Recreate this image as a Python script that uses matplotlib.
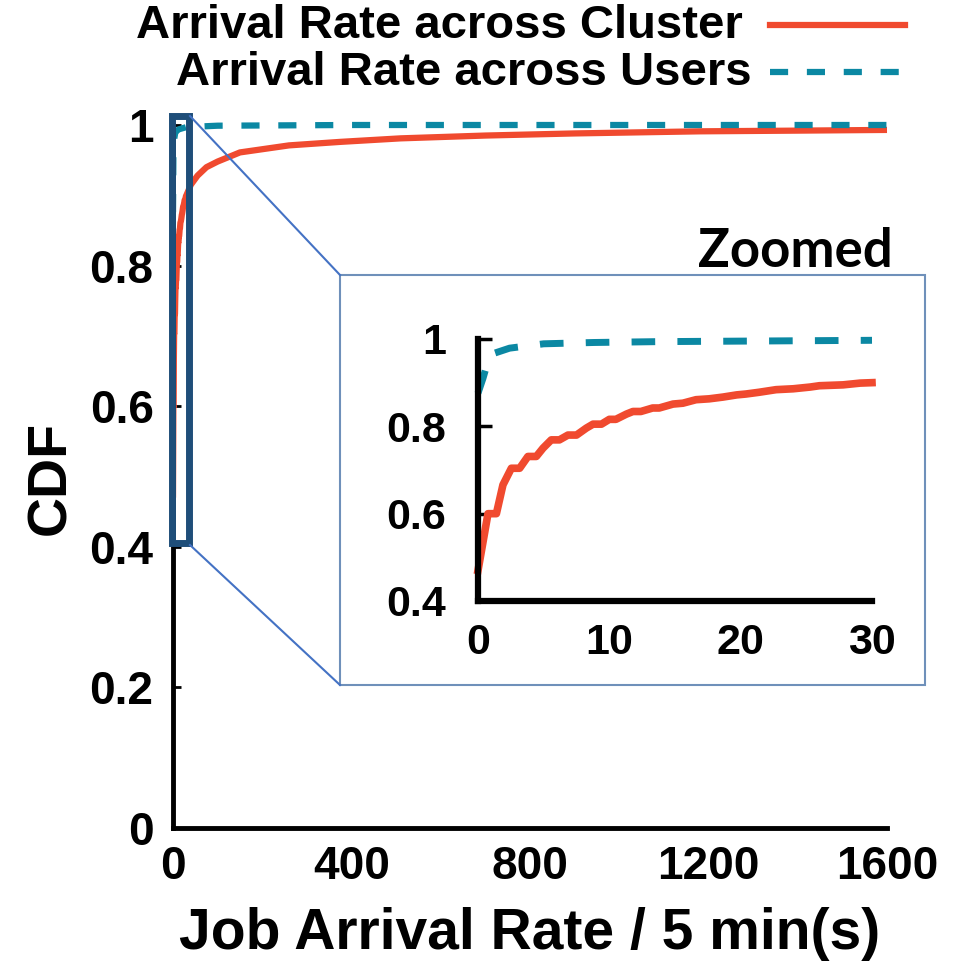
import matplotlib.pyplot as plt
from matplotlib.patches import Rectangle
from matplotlib.lines import Line2D

# values
cluster_x = [0, 0.76, 1.4, 1.9, 2.54, 3.17, 3.8, 4.44, 4.95, 5.58, 6.2, 6.85, 7.5,
             8.25, 8.76, 9.4, 10.0, 10.5, 11.3, 11.8, 12.4, 13.3, 13.8, 14.85, 15.6,
             16.6, 17.6, 18.65, 19.7, 20.4, 21.4, 22.7, 24.0, 25.3, 26.0, 27.8, 29.1,
             30, 40, 55, 75, 100, 150, 260, 375, 510, 700, 900, 1180, 1400, 1600]
cluster_y = [0.47, 0.60, 0.60, 0.666, 0.704, 0.704, 0.731, 0.731, 0.75, 0.769, 0.769,
             0.78, 0.78, 0.796, 0.805, 0.805, 0.816, 0.816, 0.828, 0.834, 0.834, 0.842,
             0.842, 0.851, 0.853, 0.861, 0.863, 0.867, 0.872, 0.874, 0.878, 0.884,
             0.886, 0.89, 0.893, 0.895, 0.899, 0.900, 0.915, 0.928, 0.94, 0.948,
             0.961, 0.971, 0.976, 0.981, 0.985, 0.988, 0.991, 0.992, 0.993]
users_x = [0, 0.38, 0.9, 2.4, 5, 8.8, 13.8, 30, 100, 400, 1600]
users_y = [0.876, 0.91, 0.964, 0.979, 0.989, 0.992, 0.994, 0.997, 0.999, 1.0, 1.0]

main_xticks = [0, 400, 800, 1200, 1600]
main_yticks = [0, 0.2, 0.4, 0.6, 0.8, 1]
main_yticklabels = ['0', '0.2', '0.4', '0.6', '0.8', '1']
zoom_xticks = [0, 10, 20, 30]
zoom_yticks = [0.4, 0.6, 0.8, 1]
zoom_yticklabels = ['0.4', '0.6', '0.8', '1']

red = '#f04a2f'
teal = '#0b88a3'
sans = ['Liberation Sans', 'DejaVu Sans']

W, H = 968, 965
fig = plt.figure(figsize=(W / 100, H / 100), dpi=100)

def fx(px):
    return px / W

def fy(py):
    return 1 - py / H

# main axes
ax = fig.add_axes([fx(173), fy(828), fx(887) - fx(173), fy(125) - fy(828)])
ax.plot(cluster_x, cluster_y, color=red, lw=4.5, clip_on=False, solid_capstyle='butt')
ax.plot(users_x, users_y, color=teal, lw=4.5, dashes=(2.9, 3.0), clip_on=False)
ax.set_xlim(0, 1600)
ax.set_ylim(0, 1)
for s in ['top', 'right']:
    ax.spines[s].set_visible(False)
for s in ['left', 'bottom']:
    ax.spines[s].set_linewidth(3.5)
ax.set_xticks(main_xticks)
ax.set_yticks(main_yticks)
ax.set_yticklabels(main_yticklabels)
ax.tick_params(axis='y', direction='in', length=6, width=2, pad=14)
ax.tick_params(axis='x', length=0, pad=12)
for lab in ax.get_xticklabels() + ax.get_yticklabels():
    lab.set_family(sans)
    lab.set_fontweight('bold')
    lab.set_fontsize(33)
ax.set_xlabel('Job Arrival Rate / 5 min(s)', family=sans, fontweight='bold', fontsize=41)
ax.xaxis.set_label_coords(0.5, -0.112)
fig.text(fx(51), fy(478), 'CDF', rotation=90, ha='center', va='center',
         family=sans, fontweight='bold', fontsize=40)

# zoom rectangle on the main axes
ax.add_patch(Rectangle((-3, 0.405), 38, 0.608, fill=False, ec='#1f4e79', lw=5,
                       clip_on=False, zorder=5))

# inset frame, connectors and title
fig.add_artist(Rectangle((fx(340), fy(685)), fx(925) - fx(340), fy(275) - fy(685),
                         transform=fig.transFigure, fill=False, ec='#6f90ba', lw=1.5))
fig.add_artist(Line2D([fx(190), fx(340)], [fy(116), fy(275)], color='#4472c4', lw=1.5))
fig.add_artist(Line2D([fx(190), fx(340)], [fy(545), fy(685)], color='#4472c4', lw=1.5))
fig.text(fx(893), fy(267), 'Zoomed', ha='right', va='baseline',
         family=['Lato', 'DejaVu Sans'], fontweight='bold', fontsize=38)

# inset axes, only the first 30 units
zx = [x for x in cluster_x if x <= 30]
zy = cluster_y[:len(zx)]
ux = [x for x in users_x if x <= 30]
uy = users_y[:len(ux)]
ins = fig.add_axes([fx(478), fy(601), fx(872) - fx(478), fy(339) - fy(601)])
ins.plot(zx, zy, color=red, lw=5.5, clip_on=False)
ins.plot(ux, uy, color=teal, lw=5, dashes=(3.4, 3.2), clip_on=False)
ins.set_xlim(0, 30)
ins.set_ylim(0.4, 1)
for s in ['top', 'right']:
    ins.spines[s].set_visible(False)
for s in ['left', 'bottom']:
    ins.spines[s].set_linewidth(4.5)
ins.set_xticks(zoom_xticks)
ins.set_yticks(zoom_yticks)
ins.set_yticklabels(zoom_yticklabels)
ins.tick_params(axis='y', direction='in', length=10, width=2.5, pad=23)
ins.tick_params(axis='x', length=0, pad=16)
for lab in ins.get_xticklabels() + ins.get_yticklabels():
    lab.set_family(sans)
    lab.set_fontweight('bold')
    lab.set_fontsize(31)

# legend drawn by hand, text right-aligned with the sample line on the right
fig.text(fx(743), fy(26), 'Arrival Rate across Cluster', ha='right', va='center',
         family=sans, fontweight='bold', fontsize=34)
fig.text(fx(752), fy(73), 'Arrival Rate across Users', ha='right', va='center',
         family=sans, fontweight='bold', fontsize=34)
fig.add_artist(Line2D([fx(770), fx(905)], [fy(25), fy(25)], color=red, lw=4.5))
fig.add_artist(Line2D([fx(770), fx(905)], [fy(72), fy(72)], color=teal, lw=4.5,
                      dashes=(2.9, 3.0)))

fig.savefig('out.png', dpi=100)
